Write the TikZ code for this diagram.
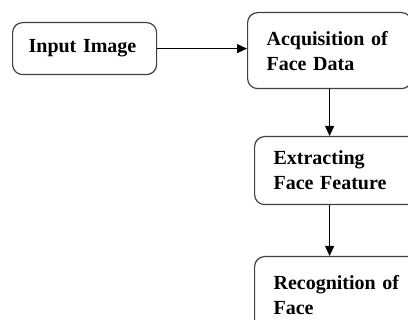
\documentclass[tikz,border=0pt]{standalone}
\usepackage{fontspec}
\setmainfont{Liberation Serif}
\usetikzlibrary{arrows.meta}
\begin{document}
\begin{tikzpicture}[x=1pt,y=-1pt,
  box/.style={draw=black!75,line width=1.2pt,rounded corners=10pt,anchor=north west,
    align=left,inner ysep=0pt,font=\fontsize{20}{25}\selectfont\bfseries},
  flow/.style={-{Triangle[length=10pt,width=9pt]},line width=1pt}]
\useasboundingbox (0,0) rectangle (408,320);
\clip (0,0) rectangle (408,320);
\node[box,text width=112pt,inner xsep=16pt,minimum height=52pt] (input) at (12,22) {Input Image};
\node[box,text width=126pt,inner xsep=19pt,minimum height=76pt] (acq) at (247,12) {Acquisition of\\Face Data};
\node[box,text width=126pt,inner xsep=19pt,minimum height=68pt] (ext) at (254,136) {Extracting\\Face Feature};
\node[box,text width=126pt,inner xsep=19pt,minimum height=76pt] (rec) at (254,256) {Recognition of\\Face};
\draw[flow] (input.east) -- (input.east -| acq.west);
\draw[flow] (acq.south) -- (acq.south |- ext.north);
\draw[flow] (ext.south -| acq.south) -- (rec.north -| acq.south);
\end{tikzpicture}
\end{document}
